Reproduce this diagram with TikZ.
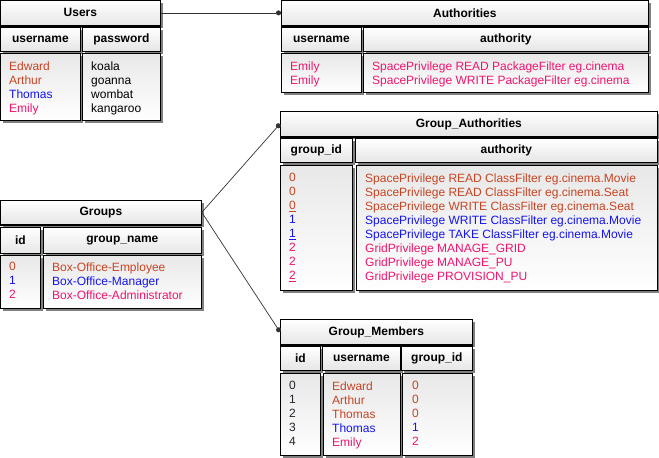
\documentclass[tikz,border=0pt]{standalone}
\usepackage{fontspec}
\setmainfont{Liberation Sans}
\usepackage{tikz}
\usetikzlibrary{arrows.meta,shadows,calc}

\definecolor{grpzero}{HTML}{C84422}
\definecolor{grpone}{HTML}{1414F0}
\definecolor{grptwo}{HTML}{F0146E}
\definecolor{iddark}{HTML}{2A2030}

\tikzset{
  cell/.style={draw=black, line width=0.8pt, anchor=north west, inner sep=0pt,
    top color=white, bottom color=black!10,
    drop shadow={shadow xshift=3pt, shadow yshift=-3pt, fill=black!50, opacity=1},
    font=\fontsize{12}{14}\selectfont\bfseries},
  tabletitle/.style={cell, append after command={(\tikzlastnode.south west) edge[line width=1.6pt] (\tikzlastnode.south east)}},
  datacell/.style={cell, top color=black!9, bottom color=white},
  entry/.style={anchor=north west, inner sep=0pt, align=left, font=\fontsize{12}{14}\selectfont},
  rel/.style={draw=black!80, line width=0.7pt, -{Circle[length=5pt]}},
}

\begin{document}
\begin{tikzpicture}[x=1pt, y=-1pt]
	\useasboundingbox (0,0) rectangle (659,458);
	% Users
	\node[tabletitle, minimum width=160, minimum height=25] (users) at (0,0) {Users};
	\node[cell, minimum width=80, minimum height=24] (users-h1) at (0,27) {username};
	\node[cell, minimum width=78, minimum height=24] (users-h2) at (82,27) {password};
	\node[datacell, minimum width=80, minimum height=67] (users-d1) at (0,53) {};
	\node[datacell, minimum width=78, minimum height=67] (users-d2) at (82,53) {};
	\node[entry] (users-t1) at ($(users-d1.north west)+(9,8.3)$) {\textcolor{grpzero}{Edward}\\\textcolor{grpzero}{Arthur}\\\textcolor{grpone}{Thomas}\\\textcolor{grptwo}{Emily}};
	\node[entry] (users-t2) at ($(users-d2.north west)+(9,8.3)$) {koala\\goanna\\wombat\\kangaroo};
	% Authorities
	\node[tabletitle, minimum width=367, minimum height=25] (auth) at (281,0) {Authorities};
	\node[cell, minimum width=80, minimum height=24] (auth-h1) at (281,27) {username};
	\node[cell, minimum width=285, minimum height=24] (auth-h2) at (363,27) {authority};
	\node[datacell, minimum width=80, minimum height=39] (auth-d1) at (281,53) {};
	\node[datacell, minimum width=285, minimum height=39] (auth-d2) at (363,53) {};
	\node[entry, text=grptwo] (auth-t1) at ($(auth-d1.north west)+(9,8.3)$) {Emily\\Emily};
	\node[entry, text=grptwo] (auth-t2) at ($(auth-d2.north west)+(9,8.3)$) {SpacePrivilege READ PackageFilter eg.cinema\\SpacePrivilege WRITE PackageFilter eg.cinema};
	% Group_Authorities
	\node[tabletitle, minimum width=377, minimum height=25] (gauth) at (280,111) {Group\_Authorities};
	\node[cell, minimum width=72, minimum height=24] (gauth-h1) at (280,138) {group\_id};
	\node[cell, minimum width=302, minimum height=24] (gauth-h2) at (355,138) {authority};
	\node[datacell, minimum width=72, minimum height=125] (gauth-d1) at (280,165) {};
	\node[datacell, minimum width=301, minimum height=125] (gauth-d2) at (356,165) {};
	\node[entry] (gauth-t1) at ($(gauth-d1.north west)+(9,8.3)$) {\textcolor{grpzero}{0}\\\textcolor{grpzero}{0}\\\textcolor{grpzero}{\underline{0}}\\\textcolor{grpone}{1}\\\textcolor{grpone}{\underline{1}}\\\textcolor{grptwo}{2}\\\textcolor{grptwo}{2}\\\textcolor{grptwo}{\underline{2}}};
	\node[entry] (gauth-t2) at ($(gauth-d2.north west)+(9,8.3)$) {\textcolor{grpzero}{SpacePrivilege READ ClassFilter eg.cinema.Movie}\\
		\textcolor{grpzero}{SpacePrivilege READ ClassFilter eg.cinema.Seat}\\
		\textcolor{grpzero}{SpacePrivilege WRITE ClassFilter eg.cinema.Seat}\\
		\textcolor{grpone}{SpacePrivilege WRITE ClassFilter eg.cinema.Movie}\\
		\textcolor{grpone}{SpacePrivilege TAKE ClassFilter eg.cinema.Movie}\\
		\textcolor{grptwo}{GridPrivilege MANAGE\_GRID}\\
		\textcolor{grptwo}{GridPrivilege MANAGE\_PU}\\
		\textcolor{grptwo}{GridPrivilege PROVISION\_PU}};
	% Groups
	\node[tabletitle, minimum width=201, minimum height=24] (groups) at (0,200) {Groups};
	\node[cell, minimum width=40, minimum height=26] (groups-h1) at (0,227) {id};
	\node[cell, minimum width=158, minimum height=26] (groups-h2) at (43,227) {group\_name};
	\node[datacell, minimum width=40, minimum height=53] (groups-d1) at (0,255) {};
	\node[datacell, minimum width=158, minimum height=53] (groups-d2) at (43,255) {};
	\node[entry] (groups-t1) at ($(groups-d1.north west)+(9,7.3)$) {\textcolor{grpzero}{0}\\\textcolor{grpone}{1}\\\textcolor{grptwo}{2}};
	\node[entry] (groups-t2) at ($(groups-d2.north west)+(9,7.3)$) {\textcolor{grpzero}{Box-Office-Employee}\\\textcolor{grpone}{Box-Office-Manager}\\\textcolor{grptwo}{Box-Office-Administrator}};
	% Group_Members
	\node[tabletitle, minimum width=192, minimum height=25] (gmem) at (280,319) {Group\_Members};
	\node[cell, minimum width=40, minimum height=24] (gmem-h1) at (280,346) {id};
	\node[cell, minimum width=78, minimum height=24] (gmem-h2) at (322,346) {username};
	\node[cell, minimum width=71, minimum height=24] (gmem-h3) at (401,346) {group\_id};
	\node[datacell, minimum width=40, minimum height=82] (gmem-d1) at (280,373) {};
	\node[datacell, minimum width=77, minimum height=82] (gmem-d2) at (323,373) {};
	\node[datacell, minimum width=70, minimum height=82] (gmem-d3) at (402,373) {};
	\node[entry, text=iddark] (gmem-t1) at ($(gmem-d1.north west)+(9,8.3)$) {0\\1\\2\\3\\4};
	\node[entry] (gmem-t2) at ($(gmem-d2.north west)+(9,8.3)$) {\textcolor{grpzero}{Edward}\\\textcolor{grpzero}{Arthur}\\\textcolor{grpzero}{Thomas}\\\textcolor{grpone}{Thomas}\\\textcolor{grptwo}{Emily}};
	\node[entry] (gmem-t3) at ($(gmem-d3.north west)+(10,8.3)$) {\textcolor{grpzero}{0}\\\textcolor{grpzero}{0}\\\textcolor{grpzero}{0}\\\textcolor{grpone}{1}\\\textcolor{grptwo}{2}};
	% relations
	\draw[rel] (users.east) -- (auth.west);
	\draw[rel] (groups.east) -- (gauth.west);
	\draw[rel] (groups.east) -- (gmem.west);
\end{tikzpicture}
\end{document}
